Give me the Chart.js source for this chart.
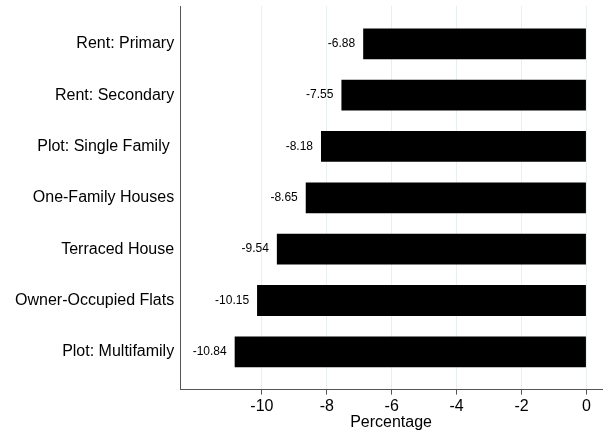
<!DOCTYPE html>
<html>
<head>
<meta charset="utf-8">
<script src="https://cdn.jsdelivr.net/npm/chart.js@4"></script>
<style>
  html, body { margin: 0; padding: 0; background: #fff; }
  #wrap { width: 613px; height: 432px; }
</style>
</head>
<body>
<div id="wrap"><canvas id="c" width="613" height="432"></canvas></div>
<script>
const categories = [
  "Rent: Primary",
  "Rent: Secondary",
  "Plot: Single Family ",
  "One-Family Houses",
  "Terraced House",
  "Owner-Occupied Flats",
  "Plot: Multifamily"
];
const values = [-6.88, -7.55, -8.18, -8.65, -9.54, -10.15, -10.84];
const xTicks = [-10, -8, -6, -4, -2, 0];

Chart.defaults.font.family = "'Liberation Sans', Arial, Helvetica, sans-serif";
Chart.defaults.color = "#000";

const valueLabels = {
  id: "valueLabels",
  afterDatasetsDraw(chart) {
    const ctx = chart.ctx;
    const meta = chart.getDatasetMeta(0);
    ctx.save();
    ctx.font = "12px 'Liberation Sans', Arial, sans-serif";
    ctx.fillStyle = "#000";
    ctx.textAlign = "right";
    ctx.textBaseline = "middle";
    meta.data.forEach((bar, i) => {
      const left = Math.min(bar.x, bar.base);
      ctx.fillText(values[i].toFixed(2), left - 8, bar.y);
    });
    ctx.restore();
  }
};

new Chart(document.getElementById("c"), {
  type: "bar",
  data: {
    datasets: [{
      data: values.map((v, i) => ({ x: v, y: i })),
      backgroundColor: "#000",
      borderWidth: 0,
      categoryPercentage: 1,
      barPercentage: 0.6
    }]
  },
  options: {
    indexAxis: "y",
    responsive: false,
    animation: false,
    devicePixelRatio: 1,
    layout: { padding: { top: 0, right: 11, bottom: 0, left: 15 } },
    plugins: { legend: { display: false }, tooltip: { enabled: false } },
    scales: {
      x: {
        type: "linear",
        min: -12.52,
        max: 0.48,
        afterBuildTicks: (scale) => { scale.ticks = xTicks.map(v => ({ value: v })); },
        grid: { color: "#e9eff1", tickColor: "#555", tickLength: 5, drawOnChartArea: true },
        border: { display: true, color: "#555", width: 1 },
        ticks: { font: { size: 16 }, padding: 2, maxRotation: 0, callback: (v) => String(v) },
        title: { display: true, text: "Percentage", font: { size: 16 }, padding: { top: -5, bottom: 0 } }
      },
      y: {
        type: "linear",
        reverse: true,
        offset: false,
        min: -0.736,
        max: 6.736,
        afterBuildTicks: (scale) => { scale.ticks = categories.map((_, i) => ({ value: i })); },
        grid: { display: false, drawTicks: true, tickLength: 6 },
        border: { display: true, color: "#555", width: 1 },
        ticks: { font: { size: 16, lineHeight: 0.75 }, padding: 0, callback: (v) => categories[v] ?? "" }
      }
    }
  },
  plugins: [valueLabels]
});
</script>
</body>
</html>
